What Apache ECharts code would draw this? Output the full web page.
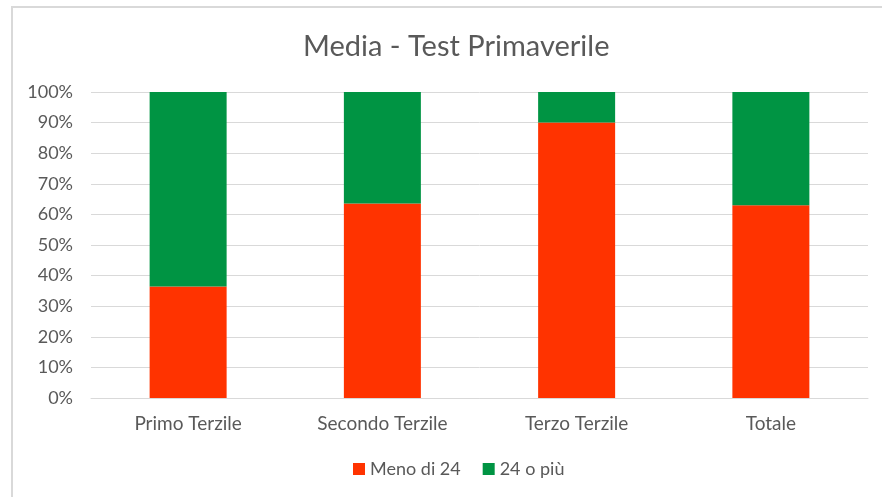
<!DOCTYPE html>
<html style="height: 100%">
<head>
	<meta charset="utf-8">
	<title>Media - Test Primaverile</title>
	<script src="https://cdn.jsdelivr.net/npm/echarts@6/dist/echarts.min.js"></script>
</head>
<body style="height: 100%; margin: 0; background: #fff">
	<div id="main" style="width: 882px; height: 497px"></div>
	<script type="text/javascript">
		var categories = ['Primo Terzile', 'Secondo Terzile', 'Terzo Terzile', 'Totale'];
		var menoDi24 = [36.4, 63.6, 90.0, 63.0];
		var piu24 = [63.6, 36.4, 10.0, 37.0];
		var yTicks = [0, 10, 20, 30, 40, 50, 60, 70, 80, 90, 100];

		var font = 'Lato, "Open Sans", sans-serif';
		var myChart = echarts.init(document.getElementById('main'));

		var option = {
			animation: false,
			textStyle: { fontFamily: font },
			graphic: [{
				type: 'polyline',
				shape: { points: [[12, 497], [12, 7], [882, 7]] },
				style: { stroke: '#d9d9d9', lineWidth: 2, fill: null }
			}],
			title: {
				text: 'Media - Test Primaverile',
				left: 298,
				top: 27,
				textStyle: { fontFamily: font, fontSize: 29, fontWeight: 'normal', color: '#595959' }
			},
			legend: {
				bottom: 14,
				left: 348,
				itemWidth: 12,
				itemHeight: 12,
				itemGap: 22,
				icon: 'rect',
				textStyle: { fontFamily: font, fontSize: 18, color: '#595959' },
				data: ['Meno di 24', '24 o più']
			},
			grid: { left: 91, right: 14, top: 92, bottom: 99, containLabel: false },
			xAxis: {
				type: 'category',
				data: categories,
				axisTick: { show: false },
				axisLine: { lineStyle: { color: '#d9d9d9' } },
				axisLabel: { fontFamily: font, fontSize: 19, color: '#595959', margin: 16 }
			},
			yAxis: {
				type: 'value',
				min: yTicks[0],
				max: yTicks[yTicks.length - 1],
				interval: 10,
				axisLine: { show: false },
				axisTick: { show: false },
				splitLine: { lineStyle: { color: '#d9d9d9' } },
				axisLabel: { fontFamily: font, fontSize: 18, color: '#595959', margin: 18, formatter: '{value}%' }
			},
			series: [{
				name: 'Meno di 24',
				type: 'bar',
				stack: 'tot',
				barWidth: 77,
				itemStyle: { color: '#ff3300' },
				data: menoDi24
			}, {
				name: '24 o più',
				type: 'bar',
				stack: 'tot',
				barWidth: 77,
				itemStyle: { color: '#009443' },
				data: piu24
			}]
		};
		myChart.setOption(option);
	</script>
</body>
</html>
